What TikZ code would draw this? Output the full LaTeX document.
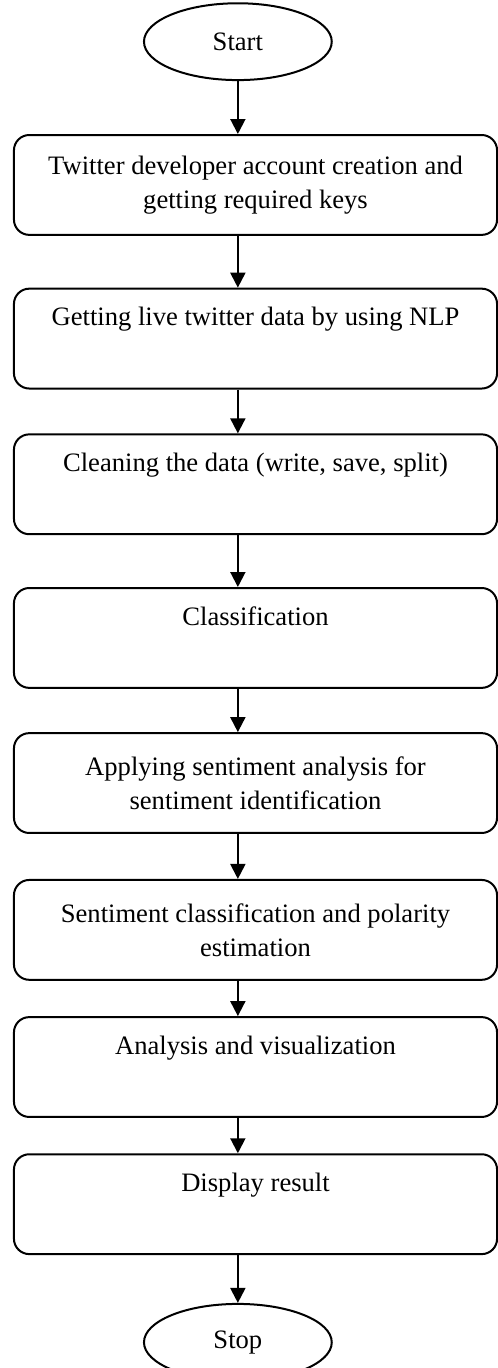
\documentclass[tikz,border=0pt]{standalone}
\usepackage{fontspec}
\setmainfont{Liberation Serif}
\usepackage{tikz}
\usetikzlibrary{shapes.geometric, arrows.meta, positioning}
\tikzstyle{startstop} = [ellipse, minimum width=3.3cm, minimum height=1.35cm, inner sep=0pt, align=center, draw=black, line width=1pt]
\tikzstyle{process} = [rectangle, rounded corners=0.27cm, minimum width=8.49cm, minimum height=1.755cm, align=center, draw=black, line width=1pt]
\tikzstyle{arrow} = [line width=1pt, -{Triangle[length=7.5pt, width=7.5pt]}]

\begin{document}
\begin{tikzpicture}[font=\fontsize{13.3pt}{17pt}\selectfont]
\useasboundingbox (0,0) rectangle (8.75cm,-24.04cm);
\node(1)[process] at (4.49,-3.25){Twitter developer account creation and\\getting required keys};
\node(start)[startstop, above = 0.93cm of 1, xshift = -0.31cm]{Start};
\node(2)[process, below = 0.91cm of 1]{Getting live twitter data by using NLP\\\strut};
\node(3)[process, below = 0.77cm of 2]{Cleaning the data (write, save, split)\\\strut};
\node(4)[process, below = 0.91cm of 3]{Classification\\\strut};
\node(5)[process, below = 0.76cm of 4]{Applying sentiment analysis for\\sentiment identification};
\node(6)[process, below = 0.79cm of 5]{Sentiment classification and polarity\\estimation};
\node(7)[process, below = 0.62cm of 6]{Analysis and visualization\\\strut};
\node(8)[process, below = 0.62cm of 7]{Display result\\\strut};
\node(stop)[startstop, below = 0.84cm of 8, xshift = -0.31cm]{Stop};
\draw[arrow](start) -- (1.north -| start);
\draw[arrow](1.south -| start) -- (2.north -| start);
\draw[arrow](2.south -| start) -- (3.north -| start);
\draw[arrow](3.south -| start) -- (4.north -| start);
\draw[arrow](4.south -| start) -- (5.north -| start);
\draw[arrow](5.south -| start) -- (6.north -| start);
\draw[arrow](6.south -| start) -- (7.north -| start);
\draw[arrow](7.south -| start) -- (8.north -| start);
\draw[arrow](8.south -| start) -- (stop);
\end{tikzpicture}
\end{document}
